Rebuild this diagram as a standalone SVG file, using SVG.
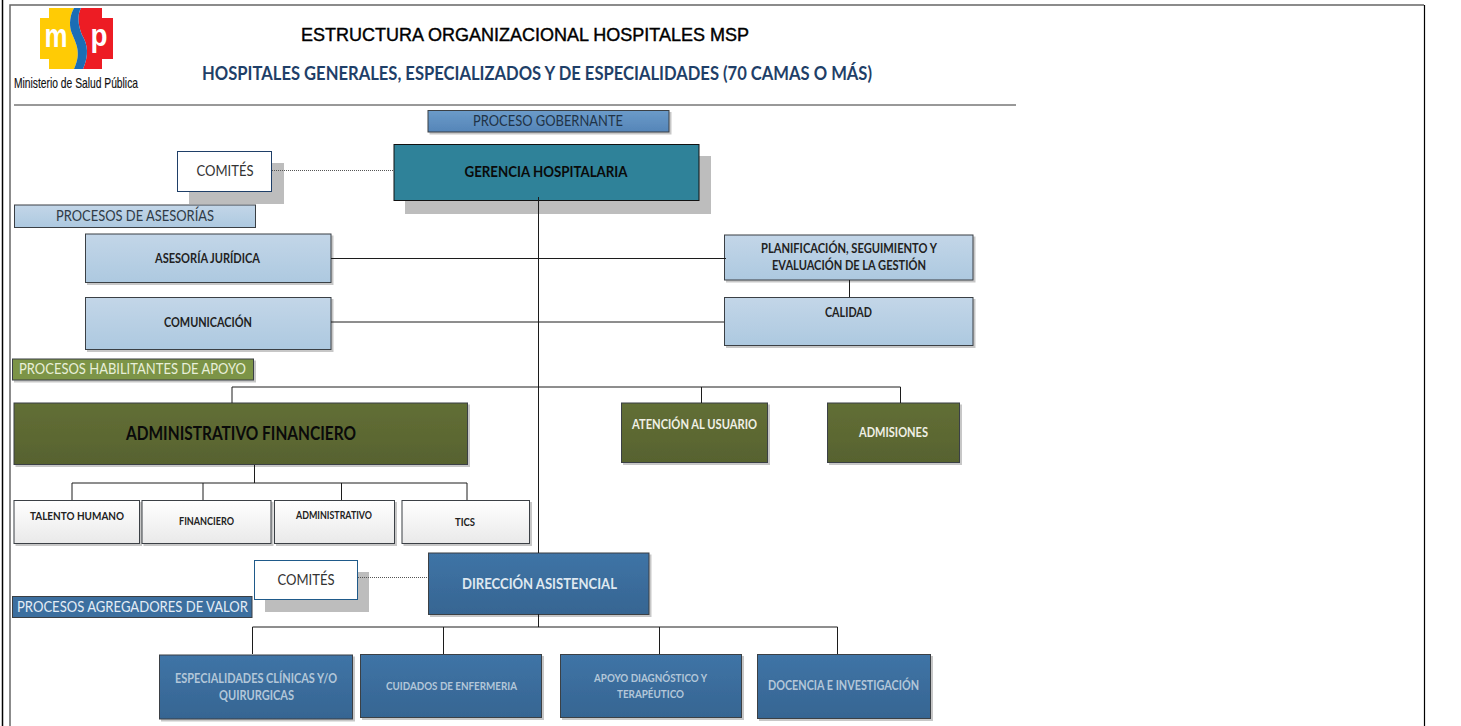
<svg xmlns="http://www.w3.org/2000/svg" width="1461" height="726" viewBox="0 0 1461 726">
<style>
text{font-family:Lato,"Open Sans","Liberation Sans",sans-serif;text-anchor:middle}
.a{font-family:"Liberation Sans",Arial,sans-serif}
.b{font-weight:700}
.box{stroke:#3a3f44;stroke-width:1}
.ln{fill:none;stroke:#1c1c1c;stroke-width:1}
.dot{fill:none;stroke:#555;stroke-width:1;stroke-dasharray:1 1}
.sh{fill:#bdbdbd}
.lb{fill:url(#lb)}.gr{fill:url(#gr)}.bl{fill:url(#bl)}.wh{fill:url(#wh)}.tb{fill:url(#tb)}
</style>
<defs>
<linearGradient id="lb" x1="0" y1="0" x2="0" y2="1"><stop offset="0" stop-color="#c3d6e8"/><stop offset="1" stop-color="#adc9e0"/></linearGradient>
<linearGradient id="gr" x1="0" y1="0" x2="0" y2="1"><stop offset="0" stop-color="#626f36"/><stop offset="1" stop-color="#57622f"/></linearGradient>
<linearGradient id="bl" x1="0" y1="0" x2="0" y2="1"><stop offset="0" stop-color="#3f74a6"/><stop offset="1" stop-color="#366592"/></linearGradient>
<linearGradient id="wh" x1="0" y1="0" x2="0" y2="1"><stop offset="0" stop-color="#ffffff"/><stop offset="1" stop-color="#e9e9e9"/></linearGradient>
<linearGradient id="tb" x1="0" y1="0" x2="0" y2="1"><stop offset="0" stop-color="#6b9bc9"/><stop offset="1" stop-color="#5585b8"/></linearGradient>
<filter id="ds" x="-5%" y="-5%" width="112%" height="118%"><feDropShadow dx="2" dy="2" stdDeviation="0.7" flood-color="#000" flood-opacity="0.22"/></filter>
</defs>
<rect width="1461" height="726" fill="#fff"/>
<g id="frame">
<path d="M2.500 0V726" fill="none" stroke="#000" stroke-width="1.500"/>
<path d="M10 726V5H1424" fill="none" stroke="#666" stroke-width="1.500"/>
<path d="M1424.500 5V726" fill="none" stroke="#000" stroke-width="1.200"/>
<path d="M14 105H1016" fill="none" stroke="#333" stroke-width="1"/>
</g>
<g id="logo">
<path d="M49 8H74C70 15 69 24 71 31C76 44 82 52 74 69H49V59H40V18H49Z" fill="#ffcb05"/>
<path d="M81 8H102V18H113V59H102V69H83C89 55 88 45 82 35C78 25 77 15 81 8Z" fill="#ed1c24"/>
<path d="M74 8H81C77 15 78 25 82 35C88 45 89 55 83 69H74C82 52 76 44 71 31C69 24 70 15 74 8Z" fill="#1b6db5"/>
<text x="56" y="47" class="a b" font-size="34" fill="#fff" textLength="23" lengthAdjust="spacingAndGlyphs">m</text>
<text x="99" y="46" class="a b" font-size="32" fill="#fff" textLength="17" lengthAdjust="spacingAndGlyphs">p</text>
<text x="76" y="88" class="a" font-size="14.500" fill="#111" stroke="#111" stroke-width="0.150" textLength="124" lengthAdjust="spacingAndGlyphs">Ministerio de Salud Pública</text>
</g>
<g id="titles">
<text x="525" y="41" class="a" font-size="18" fill="#000" stroke="#000" stroke-width="0.400" textLength="448" lengthAdjust="spacingAndGlyphs">ESTRUCTURA ORGANIZACIONAL HOSPITALES MSP</text>
<text x="537" y="80" class="b" font-size="18" fill="#1f3f68" textLength="670" lengthAdjust="spacingAndGlyphs">HOSPITALES GENERALES, ESPECIALIZADOS Y DE ESPECIALIDADES (70 CAMAS O MÁS)</text>
</g>
<g id="proceso-gobernante"><rect class="box tb" x="428" y="110.500" width="241" height="21.500" filter="url(#ds)"/><text x="548" y="126" font-size="15.500" fill="#1f3347" textLength="150" lengthAdjust="spacingAndGlyphs">PROCESO GOBERNANTE</text></g>
<g id="comites-1"><rect class="sh" x="189" y="163" width="95" height="41"/><rect x="177.500" y="151.500" width="94" height="40" fill="#fff" stroke="#1f3f68"/><text x="225" y="176" font-size="16" fill="#333" textLength="57" lengthAdjust="spacingAndGlyphs">COMITÉS</text></g>
<g id="gerencia"><rect class="sh" x="405" y="156" width="306" height="58"/><rect x="394" y="144.500" width="305" height="56" fill="#2f8299" stroke="#111"/><text x="546" y="177" class="b" font-size="15.500" fill="#0a0a0a" textLength="163" lengthAdjust="spacingAndGlyphs">GERENCIA HOSPITALARIA</text></g>
<g id="procesos-asesorias"><rect class="box lb" x="14.500" y="205" width="241" height="22.500"/><text x="135" y="221" font-size="16" fill="#2f3b47" textLength="158" lengthAdjust="spacingAndGlyphs">PROCESOS DE ASESORÍAS</text></g>
<g id="asesoria-juridica"><rect class="box lb" x="85.500" y="234" width="245.500" height="48.500" filter="url(#ds)"/><text x="207.500" y="263" class="b" font-size="12.500" fill="#222" textLength="105" lengthAdjust="spacingAndGlyphs">ASESORÍA JURÍDICA</text></g>
<g id="planificacion"><rect class="box lb" x="724.500" y="235" width="248.500" height="45" filter="url(#ds)"/><text x="849" y="253" class="b" font-size="12.500" fill="#222" textLength="176" lengthAdjust="spacingAndGlyphs">PLANIFICACIÓN, SEGUIMIENTO Y</text><text x="849" y="270" class="b" font-size="12.500" fill="#222" textLength="154" lengthAdjust="spacingAndGlyphs">EVALUACIÓN DE LA GESTIÓN</text></g>
<g id="comunicacion"><rect class="box lb" x="85.500" y="297.500" width="245.500" height="52" filter="url(#ds)"/><text x="208" y="327" class="b" font-size="12.500" fill="#222" textLength="88" lengthAdjust="spacingAndGlyphs">COMUNICACIÓN</text></g>
<g id="calidad"><rect class="box lb" x="724.500" y="297.500" width="248.500" height="48" filter="url(#ds)"/><text x="848.500" y="317" class="b" font-size="12.500" fill="#222" textLength="47" lengthAdjust="spacingAndGlyphs">CALIDAD</text></g>
<g id="procesos-habilitantes"><rect class="box" x="12.500" y="359" width="241" height="21" fill="#7c9447" filter="url(#ds)"/><text x="132.500" y="374" font-size="16" fill="#e8efd9" textLength="227" lengthAdjust="spacingAndGlyphs">PROCESOS HABILITANTES DE APOYO</text></g>
<g id="administrativo-financiero"><rect class="box gr" x="14" y="403" width="453.500" height="61.500" filter="url(#ds)"/><text x="241" y="440" class="b" font-size="18" fill="#0a0a0a" textLength="230" lengthAdjust="spacingAndGlyphs">ADMINISTRATIVO FINANCIERO</text></g>
<g id="atencion-usuario"><rect class="box gr" x="621.500" y="403" width="146" height="59.500" filter="url(#ds)"/><text x="694.500" y="429" class="b" font-size="13" fill="#f0f0e6" textLength="125" lengthAdjust="spacingAndGlyphs">ATENCIÓN AL USUARIO</text></g>
<g id="admisiones"><rect class="box gr" x="827.500" y="403" width="132" height="59.500" filter="url(#ds)"/><text x="893.500" y="437" class="b" font-size="13" fill="#f0f0e6" textLength="69" lengthAdjust="spacingAndGlyphs">ADMISIONES</text></g>
<g id="talento-humano"><rect class="box wh" x="14" y="500.500" width="125.500" height="43" filter="url(#ds)"/><text x="77" y="520" class="b" font-size="11.500" fill="#222" textLength="94" lengthAdjust="spacingAndGlyphs">TALENTO HUMANO</text></g>
<g id="financiero"><rect class="box wh" x="142" y="500.500" width="129" height="43" filter="url(#ds)"/><text x="206.500" y="525" class="b" font-size="10.500" fill="#222" textLength="55" lengthAdjust="spacingAndGlyphs">FINANCIERO</text></g>
<g id="administrativo"><rect class="box wh" x="274.500" y="500.500" width="120" height="43" filter="url(#ds)"/><text x="334" y="519" class="b" font-size="10.500" fill="#222" textLength="76" lengthAdjust="spacingAndGlyphs">ADMINISTRATIVO</text></g>
<g id="tics"><rect class="box wh" x="402" y="500.500" width="127.500" height="43" filter="url(#ds)"/><text x="465" y="526" class="b" font-size="11.500" fill="#222" textLength="20" lengthAdjust="spacingAndGlyphs">TICS</text></g>
<g id="comites-2"><rect class="sh" x="265" y="572" width="104" height="40"/><rect x="254.500" y="560.500" width="103" height="39" fill="#fff" stroke="#1f5a8a"/><text x="306" y="585" font-size="16" fill="#333" textLength="57" lengthAdjust="spacingAndGlyphs">COMITÉS</text></g>
<g id="procesos-agregadores"><rect class="box" x="12.500" y="596.500" width="239.500" height="21" fill="#3c6f9f"/><text x="132.500" y="612" font-size="16" fill="#e3ecf5" textLength="231" lengthAdjust="spacingAndGlyphs">PROCESOS AGREGADORES DE VALOR</text></g>
<g id="direccion"><rect class="box bl" x="428.500" y="553" width="220.500" height="61.500" filter="url(#ds)"/><text x="539.500" y="589" class="b" font-size="15.500" fill="#dfe8f0" textLength="155" lengthAdjust="spacingAndGlyphs">DIRECCIÓN ASISTENCIAL</text></g>
<g id="especialidades"><rect class="box bl" x="159.500" y="655" width="193" height="64" filter="url(#ds)"/><text x="256" y="683" class="b" font-size="13" fill="#b3c7d9" textLength="162" lengthAdjust="spacingAndGlyphs">ESPECIALIDADES CLÍNICAS Y/O</text><text x="256.500" y="700" class="b" font-size="13" fill="#b3c7d9" textLength="75" lengthAdjust="spacingAndGlyphs">QUIRURGICAS</text></g>
<g id="cuidados"><rect class="box bl" x="360.500" y="654.500" width="181" height="63" filter="url(#ds)"/><text x="451.500" y="690" class="b" font-size="12" fill="#b3c7d9" textLength="131" lengthAdjust="spacingAndGlyphs">CUIDADOS DE ENFERMERIA</text></g>
<g id="apoyo"><rect class="box bl" x="560.500" y="654.500" width="181" height="63" filter="url(#ds)"/><text x="650.500" y="682" class="b" font-size="12" fill="#b3c7d9" textLength="113" lengthAdjust="spacingAndGlyphs">APOYO DIAGNÓSTICO Y</text><text x="650.500" y="698" class="b" font-size="12" fill="#b3c7d9" textLength="67" lengthAdjust="spacingAndGlyphs">TERAPÉUTICO</text></g>
<g id="docencia"><rect class="box bl" x="757.500" y="654.500" width="173" height="64" filter="url(#ds)"/><text x="843.500" y="690" class="b" font-size="13" fill="#b3c7d9" textLength="151" lengthAdjust="spacingAndGlyphs">DOCENCIA E INVESTIGACIÓN</text></g>
<g id="connectors">
<path class="dot" d="M272 170.500H394M358 577.500H428"/>
<path class="ln" d="M538.500 197V553M331 258.500H726M331 322H724M849.500 280V297"/>
<path class="ln" d="M232 403V387H900.500V403M701.500 387V403"/>
<path class="ln" d="M254.500 465V483M72 500V483H467V500M203 483V500M341.500 483V500"/>
<path class="ln" d="M538.500 614V627M252.500 654V627H837.500V654M443.500 627V654M659.500 627V654"/>
</g>
</svg>
